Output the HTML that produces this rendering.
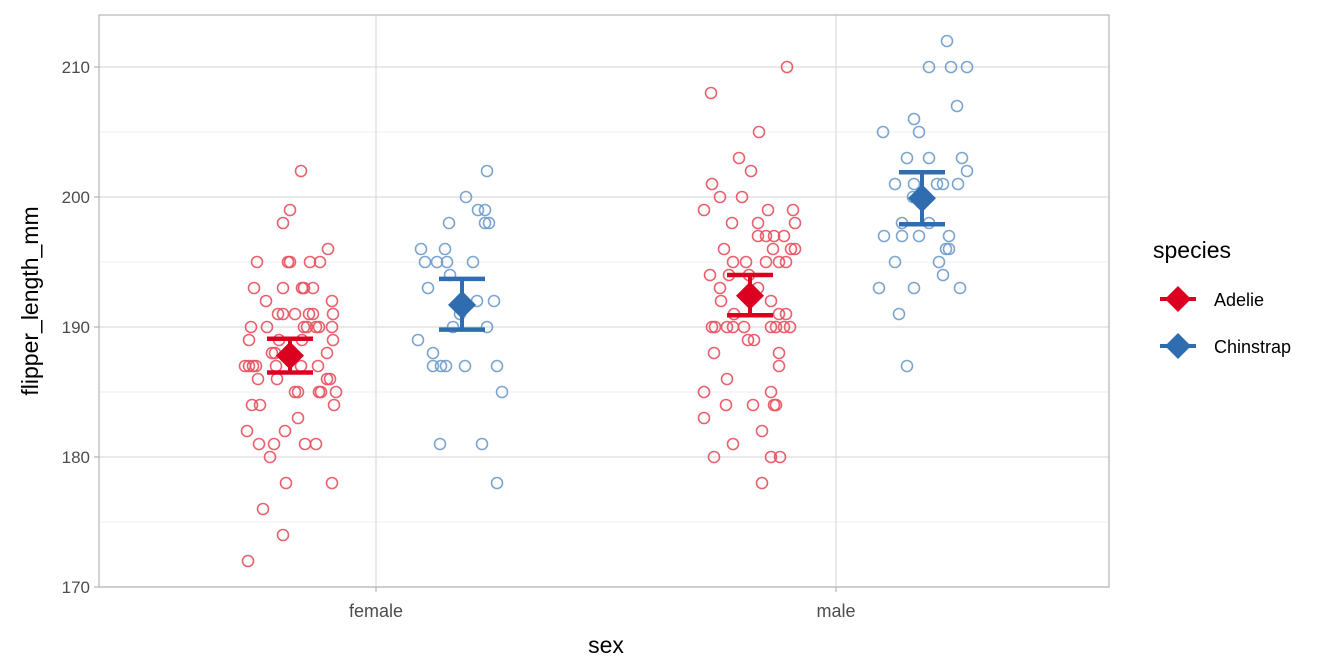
<!DOCTYPE html>
<html><head><meta charset="utf-8"><style>
body{margin:0;background:#fff;}
svg{display:block;font-family:"Liberation Sans",Arial,sans-serif;}
</style></head><body>
<svg id="chart" width="1344" height="672" viewBox="0 0 1344 672">
<rect x="0" y="0" width="1344" height="672" fill="#fff"/>
<g id="grid"></g>
<g id="points"></g>
<g id="summary"></g>
<g id="axes"></g>
<text x="606" y="653" font-size="23" text-anchor="middle" fill="#000">sex</text>
<text x="0" y="0" font-size="23" text-anchor="middle" fill="#000" transform="translate(38,301) rotate(-90)">flipper_length_mm</text>
<g>
<text x="1153" y="258" font-size="23" fill="#000">species</text>
<g>
<line x1="1160" y1="299" x2="1196" y2="299" stroke="#DC0020" stroke-width="4"/>
<path d="M1178 286 L1191 299 L1178 312 L1165 299 Z" fill="#DC0020"/>
<text x="1214" y="306" font-size="18" fill="#000">Adelie</text></g>
<g>
<line x1="1160" y1="346" x2="1196" y2="346" stroke="#2F6DB0" stroke-width="4"/>
<path d="M1178 333 L1191 346 L1178 359 L1165 346 Z" fill="#2F6DB0"/>
<text x="1214" y="353" font-size="18" fill="#000">Chinstrap</text></g>
</g>
</svg>
<script>
const categories = ["female","male"];
const speciesNames = ["Adelie","Chinstrap"];
const yTicks = [170,180,190,200,210];
const yMinor = [175,185,195,205];
// means and CI (lower, upper) by [category][species]
const means = [[187.8,191.7],[192.4,199.9]];
const ciLow = [[186.5,189.8],[190.9,197.9]];
const ciHigh = [[189.1,193.7],[194.0,201.9]];
// raw points: values and jitter (in 1/460 category units)
const fAdelieVals = [202,199,198,196,195,195,195,195,195,193,193,193,193,193,192,192,191,191,191,191,191,191,190,190,190,190,190,190,190,189,189,189,189,188,188,188,187,187,187,187,187,187,187,186,186,186,186,185,185,185,185,185,184,184,184,183,182,182,181,181,181,181,180,178,178,176,174,172];
const fAdelieJit = [11,0,-7,38,-33,-2,0,20,30,-36,-7,12,14,23,-24,42,-12,-7,5,19,23,43,-39,-23,14,17,26,29,42,-41,-11,12,43,37,-18,-15,-45,-41,-37,-34,-14,11,28,-32,-13,37,40,5,8,29,31,46,-38,-30,44,8,-43,-5,-31,-16,15,26,-20,-4,42,-27,-7,-42];
const fChinVals = [202,200,199,199,198,198,198,196,196,195,195,195,195,194,193,192,192,191,190,190,189,188,187,187,187,187,187,185,181,181,178];
const fChinJit = [25,4,16,23,-13,23,27,-41,-17,-37,-25,-15,11,-12,-34,15,32,-2,-9,25,-44,-29,-29,-21,-16,3,35,40,-22,20,35];
const mAdelieVals = [210,208,205,203,202,201,200,200,199,199,199,198,198,198,197,197,197,197,196,196,196,196,195,195,195,195,195,194,194,194,193,193,192,192,191,191,191,190,190,190,190,190,190,190,190,190,189,189,188,188,187,186,185,185,184,184,184,184,183,182,181,180,180,180,178];
const mAdelieJit = [37,-39,9,-11,1,-38,-30,-8,-46,18,43,-18,8,45,8,16,24,34,-26,23,41,45,-17,-4,16,29,36,-40,-21,-1,-30,8,-29,21,-16,29,36,-38,-35,-23,-17,-6,21,26,34,40,-2,4,-36,29,29,-23,-46,21,-24,3,24,26,-46,12,-17,-36,21,30,12];
const mChinVals = [212,210,210,210,207,206,205,205,203,203,203,202,201,201,201,201,201,200,198,198,197,197,197,197,196,196,195,195,194,193,193,193,191,187];
const mChinJit = [25,7,29,45,35,-8,-39,-3,-15,7,40,45,-27,-8,15,21,36,-9,-20,7,-38,-20,-3,27,24,27,-27,17,21,-43,-8,38,-23,-15];

const colors = ["#DC0020","#2F6DB0"];
const ptColors = ["#E8505E","#6E9BCB"];
const plot = {l:99,r:1109,t:15,b:587};
const y = v => 587 - (v-170)*13;
const catX = i => 376 + i*460;
const dodge = s => (s===0?-86:86);
const NS = "http://www.w3.org/2000/svg";
function mk(tag, attrs, parent){const e=document.createElementNS(NS,tag);for(const k in attrs)e.setAttribute(k,attrs[k]);parent.appendChild(e);return e;}

const grid = document.getElementById('grid');
const pane = mk('rect',{x:plot.l,y:plot.t,width:plot.r-plot.l,height:plot.b-plot.t,fill:'#fff'},grid);


yMinor.forEach(v=>{const l=mk('line',{x1:plot.l,x2:plot.r,y1:y(v),y2:y(v),stroke:'#efefef','stroke-width':1},grid);

});
yTicks.forEach(v=>{const l=mk('line',{x1:plot.l,x2:plot.r,y1:y(v),y2:y(v),stroke:'#dcdcdc','stroke-width':1.2},grid);

});
categories.forEach((c,i)=>{const l=mk('line',{x1:catX(i),x2:catX(i),y1:plot.t,y2:plot.b,stroke:'#dcdcdc','stroke-width':1.2},grid);

});

const pts = document.getElementById('points');
const groups = [[fAdelieVals,fAdelieJit,0,0],[fChinVals,fChinJit,0,1],[mAdelieVals,mAdelieJit,1,0],[mChinVals,mChinJit,1,1]];
const band = catX(1)-catX(0);
groups.forEach(([vals,jit,ci,si])=>{
  vals.forEach((v,k)=>{
    const c=mk('circle',{cx:catX(ci)+dodge(si)+jit[k]*band/460,cy:y(v),r:5.5,fill:'none',stroke:ptColors[si],'stroke-width':1.6,'stroke-opacity':0.9},pts);
    
    
  });
});

const sum = document.getElementById('summary');
categories.forEach((c,ci)=>{speciesNames.forEach((s,si)=>{
  const cx=catX(ci)+dodge(si), col=colors[si];
  const g=mk('g',{},sum);
  
  
  mk('line',{x1:cx,x2:cx,y1:y(ciLow[ci][si]),y2:y(ciHigh[ci][si]),stroke:col,'stroke-width':4},g);
  mk('line',{x1:cx-23,x2:cx+23,y1:y(ciLow[ci][si]),y2:y(ciLow[ci][si]),stroke:col,'stroke-width':4.5},g);
  mk('line',{x1:cx-23,x2:cx+23,y1:y(ciHigh[ci][si]),y2:y(ciHigh[ci][si]),stroke:col,'stroke-width':4.5},g);
  const my=y(means[ci][si]);
  mk('path',{d:`M${cx} ${my-14} L${cx+14} ${my} L${cx} ${my+14} L${cx-14} ${my} Z`,fill:col},g);
});});

const axes = document.getElementById('axes');
const border=mk('rect',{x:plot.l,y:plot.t,width:plot.r-plot.l,height:plot.b-plot.t,fill:'none',stroke:'#b3b3b3','stroke-width':1.2},axes);


yTicks.forEach(v=>{
  mk('line',{x1:plot.l-5,x2:plot.l,y1:y(v),y2:y(v),stroke:'#b3b3b3','stroke-width':1.2},axes);
  const t=mk('text',{x:plot.l-9,y:y(v)+6,'font-size':17,'text-anchor':'end',fill:'#4d4d4d'},axes);
  t.textContent=v;
  
  
});
categories.forEach((c,i)=>{
  mk('line',{x1:catX(i),x2:catX(i),y1:plot.b,y2:plot.b+5,stroke:'#b3b3b3','stroke-width':1.2},axes);
  const t=mk('text',{x:catX(i),y:plot.b+30,'font-size':18,'text-anchor':'middle',fill:'#4d4d4d'},axes);
  t.textContent=c;
  
  
});
</script>
</body></html>
